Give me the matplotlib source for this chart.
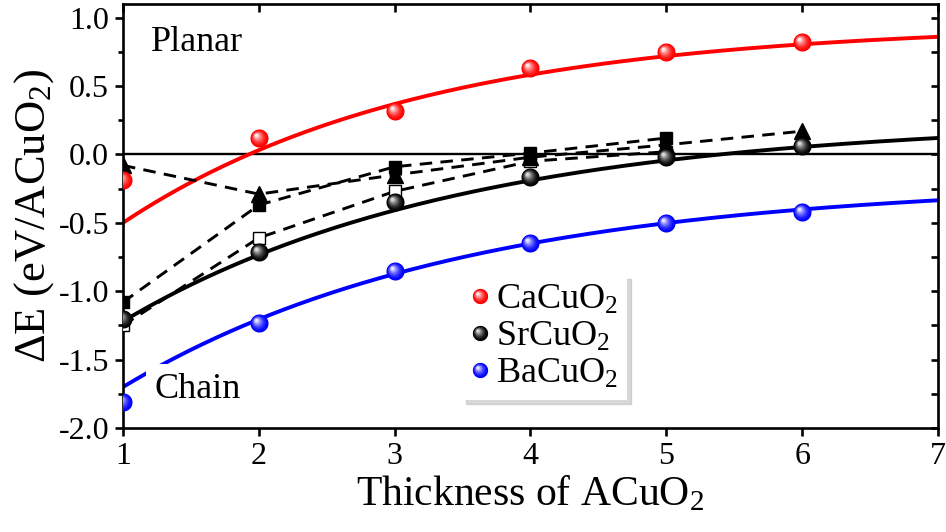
import numpy as np
import matplotlib
matplotlib.use("Agg")
import matplotlib.pyplot as plt
from matplotlib.path import Path
from matplotlib.lines import Line2D
from matplotlib.legend_handler import HandlerTuple

# ---- data -------------------------------------------------------------
thickness = [1, 2, 3, 4, 5, 6]

ca_energy = [-0.19, 0.12, 0.32, 0.63, 0.75, 0.82]
sr_energy = [-1.20, -0.715, -0.35, -0.165, -0.02, 0.06]
ba_energy = [-1.81, -1.23, -0.85, -0.645, -0.50, -0.42]

# exponential fits  E(n) = A + B * exp(-n / tau)
ca_fit = (0.955, -2.292, 2.2)
sr_fit = (0.254, -2.199, 2.5)
ba_fit = (-0.199, -2.24, 2.5)

tri_x = [1, 2, 3, 4, 5, 6]
tri_energy = [-0.08, -0.29, -0.15, -0.02, 0.07, 0.17]
sq_x = [1, 2, 3, 4, 5]
sq_energy = [-1.08, -0.37, -0.09, 0.01, 0.12]
osq_x = [1, 2, 3, 4, 5]
osq_energy = [-1.25, -0.61, -0.27, -0.05, 0.02]

series_names = ["CaCuO$_2$", "SrCuO$_2$", "BaCuO$_2$"]

# ---- style -------------------------------------------------------------
plt.rcParams["font.family"] = ["Liberation Serif", "DejaVu Serif"]
plt.rcParams["mathtext.fontset"] = "custom"
plt.rcParams["mathtext.rm"] = "Liberation Serif"
plt.rcParams["mathtext.it"] = "Liberation Serif:italic"
plt.rcParams["mathtext.default"] = "rm"
plt.rcParams["axes.unicode_minus"] = False
plt.rcParams["lines.scale_dashes"] = False

fig = plt.figure(figsize=(9.46, 5.32), dpi=100)
ax = fig.add_axes([0.130, 0.1955, 0.8615, 0.797])


def sphere_layers(base, high, n=9):
    """Stack of offset circles that reads as a shaded ball."""
    base = np.array(base, float)
    high = np.array(high, float)
    layers = []
    theta = np.linspace(0, 2 * np.pi, 60)
    for k in range(n):
        t = k / (n - 1)
        r = 1.0 - 0.82 * t
        cx, cy = -0.33 * t, 0.33 * t
        verts = [(-1, -1), (1, 1)]
        codes = [Path.MOVETO, Path.MOVETO]
        circ = np.column_stack([cx + r * np.cos(theta), cy + r * np.sin(theta)])
        verts += [tuple(p) for p in circ]
        codes += [Path.MOVETO] + [Path.LINETO] * (len(circ) - 2) + [Path.CLOSEPOLY]
        col = base + (high - base) * t ** 1.6
        layers.append((Path(verts, codes), np.clip(col, 0, 1)))
    return layers


ball_styles = [
    ((1.0, 0.0, 0.0), (1.0, 0.92, 0.92)),
    ((0.0, 0.0, 0.0), (0.85, 0.85, 0.85)),
    ((0.0, 0.0, 1.0), (0.9, 0.9, 1.0)),
]
fit_colors = ["#ff0000", "#000000", "#0000ff"]

xs = np.linspace(1, 7, 300)
ax.axhline(0.0, color="black", lw=1.7, zorder=1)

handles = []
for energy, fit, fcol, (bc, hc) in zip([ca_energy, sr_energy, ba_energy],
                                      [ca_fit, sr_fit, ba_fit],
                                      fit_colors, ball_styles):
    A, B, tau = fit
    ax.plot(xs, A + B * np.exp(-xs / tau), color=fcol, lw=2.8, zorder=2)
    legend_parts = []
    for i, (path, col) in enumerate(sphere_layers(bc, hc)):
        ax.plot(thickness, energy, linestyle="none", marker=path,
                markersize=13, markerfacecolor=col, markeredgecolor="none",
                zorder=6 + i * 0.01)
        legend_parts.append(Line2D([], [], linestyle="none", marker=path,
                                   markersize=11, markerfacecolor=col,
                                   markeredgecolor="none"))
    handles.append(tuple(legend_parts))

dash_kw = dict(color="black", lw=2.1, dashes=(9, 6), zorder=3)
ax.plot(osq_x, osq_energy, marker="s", markersize=8.5, markerfacecolor="white",
        markeredgecolor="black", markeredgewidth=1.0, **dash_kw)
ax.plot(sq_x, sq_energy, marker="s", markersize=9, markerfacecolor="black",
        markeredgecolor="black", **dash_kw)
ax.plot(tri_x, tri_energy, marker="^", markersize=11, markerfacecolor="black",
        markeredgecolor="black", **dash_kw)

# ---- axes ----------------------------------------------------------------
ax.set_xlim(1, 7)
ax.set_ylim(-2.0, 1.1)
ax.set_xticks(range(1, 8))
ax.set_yticks(np.arange(-2.0, 1.01, 0.5))
ax.set_yticks(np.arange(-1.75, 1.01, 0.5), minor=True)
ax.yaxis.set_major_formatter(matplotlib.ticker.FormatStrFormatter("%.1f"))

for s in ax.spines.values():
    s.set_linewidth(1.9)
ax.tick_params(which="major", direction="out", length=6, width=1.9,
               labelsize=23, top=False, right=False)
ax.tick_params(axis="x", pad=4)
ax.tick_params(axis="y", pad=4)
ax.tick_params(which="minor", direction="out", length=3.5, width=1.9,
               top=False, right=False)

top = ax.secondary_xaxis("top")
top.set_xticks(range(1, 8))
top.tick_params(direction="in", length=6, width=1.9, labeltop=False)
right = ax.secondary_yaxis("right")
right.set_yticks(np.arange(-2.0, 1.01, 0.25))
right.tick_params(direction="in", length=5, width=1.9, labelright=False)

ax.set_xlabel("Thickness of ACuO$_2$", fontsize=30, labelpad=3)
ax.set_ylabel("\u0394E (eV/ACuO$_2$)", fontsize=32, labelpad=2)

box = dict(boxstyle="square,pad=0.25", facecolor="white", edgecolor="none")
ax.text(0.0906, 0.908, "Planar", transform=ax.transAxes, fontsize=26,
        ha="center", va="center", bbox=box, zorder=8)
ax.text(0.092, 0.090, "Chain", transform=ax.transAxes, fontsize=26,
        ha="center", va="center", bbox=box, zorder=8)

leg = ax.legend(handles, series_names,
                handler_map={tuple: HandlerTuple(ndivide=1, pad=0)},
                loc="upper left", bbox_to_anchor=(0.416, 0.362), borderaxespad=0,
                fontsize=26, frameon=True, fancybox=False,
                shadow={"color": "0.7", "ox": 3, "oy": -3},
                handlelength=0.5, handletextpad=0.2, labelspacing=0.1,
                borderpad=0.25)
leg.get_frame().set_edgecolor("none")
leg.set_zorder(10)

fig.savefig("out.png", dpi=100)
